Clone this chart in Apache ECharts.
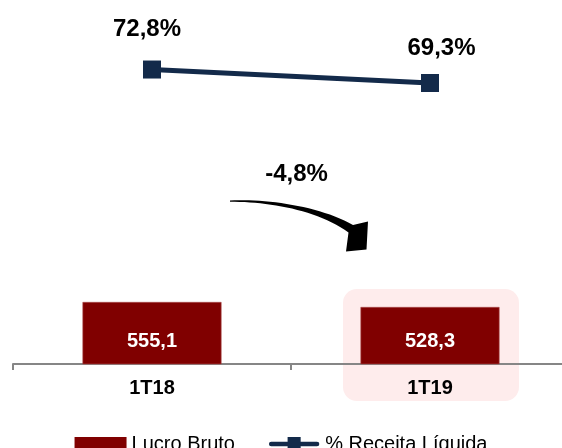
<!DOCTYPE html>
<html>
<head>
<meta charset="utf-8">
<script src="https://cdn.jsdelivr.net/npm/echarts@6/dist/echarts.min.js"></script>
<style>
    html, body { margin: 0; padding: 0; background: #fff; }
    #lucro { width: 562px; height: 448px; }
</style>
</head>
<body>
<div id="lucro"></div>
<script>
// dados
var categorias = ['1T18', '1T19'];
var lucro_bruto = [555.1, 528.3];
var receita_pct = [72.8, 69.3];
var variacao = '-4,8%';

var fonte = 'Liberation Sans, Arial, sans-serif';
var azul = '#132a4a';

var myChart = echarts.init(document.getElementById('lucro'));

// ponto de uma curva cubica (para desenhar a seta)
function bezier(p0, p1, p2, p3, n) {
    var pts = [];
    for (var i = 0; i <= n; i++) {
        var t = i / n, u = 1 - t;
        pts.push([
            u * u * u * p0[0] + 3 * u * u * t * p1[0] + 3 * u * t * t * p2[0] + t * t * t * p3[0],
            u * u * u * p0[1] + 3 * u * u * t * p1[1] + 3 * u * t * t * p2[1] + t * t * t * p3[1]
        ]);
    }
    return pts;
}

// icone da legenda: linha grossa com quadrado no meio
var icone_linha = 'path://M2.5,5 L51.5,5 A2.5,2.5 0 0 1 51.5,10 L2.5,10 A2.5,2.5 0 0 1 2.5,5 Z M20,0 L34,0 L34,15 L20,15 Z';

var option = {
    animation: false,
    grid: { left: 13, right: -7, top: 20, bottom: 84, outerBoundsMode: 'none' },
    legend: {
        data: [
            { name: 'Lucro Bruto', icon: 'rect', itemStyle: { color: '#800000', borderWidth: 0 } },
            { name: '% Receita Líquida', icon: icone_linha, itemStyle: { color: azul, borderWidth: 0 } }
        ],
        left: 'center',
        top: 429,
        itemWidth: 52,
        itemHeight: 14,
        itemGap: 34,
        textStyle: { fontFamily: fonte, fontSize: 20, color: '#000' }
    },
    xAxis: {
        type: 'category',
        data: categorias,
        axisLine: { onZero: false, lineStyle: { color: '#868686', width: 2 } },
        axisTick: { show: true, length: 6, lineStyle: { color: '#868686', width: 2 } },
        axisLabel: { margin: 14, color: '#000', fontFamily: fonte, fontSize: 20, fontWeight: 'bold' }
    },
    yAxis: [
        { type: 'value', min: 222.8, max: 2066.6, show: false, splitLine: { show: false } },
        { type: 'value', min: -3.55, max: 85.64, show: false, splitLine: { show: false } }
    ],
    series: [
        {
            name: 'Lucro Bruto',
            type: 'bar',
            barWidth: '50%',
            data: lucro_bruto,
            itemStyle: { color: '#800000', borderColor: '#a94a4a', borderWidth: 0.6 },
            label: {
                show: true,
                position: 'insideBottom',
                distance: 13,
                color: '#fff',
                fontFamily: fonte,
                fontSize: 20,
                fontWeight: 'bold',
                formatter: function (p) { return p.value.toFixed(1).replace('.', ','); }
            }
        },
        {
            name: '% Receita Líquida',
            type: 'line',
            yAxisIndex: 1,
            data: receita_pct.map(function (v, i) {
                return { value: v, label: { offset: i == 0 ? [-5, -40] : [11.5, -35] } };
            }),
            symbol: 'rect',
            symbolSize: 18,
            lineStyle: { color: azul, width: 5 },
            itemStyle: { color: azul },
            label: {
                show: true,
                position: 'inside',
                color: '#000',
                fontFamily: fonte,
                fontSize: 24,
                fontWeight: 'bold',
                formatter: function (p) { return p.value.toFixed(1).replace('.', ',') + '%'; }
            }
        }
    ]
};
myChart.setOption(option);

// seta curva: borda de cima, ponta, borda de baixo
var seta = bezier([230, 200.5], [265, 198.5], [320, 206], [353, 225], 24)
    .concat([[368, 221.5], [366.5, 249.5], [346, 251.5]])
    .concat(bezier([348.5, 232.5], [318, 210], [268, 201.5], [230, 201.8], 24));

// destaque do 1T19 e seta da variacao
var cx = myChart.convertToPixel({ xAxisIndex: 0 }, categorias[1]);
myChart.setOption({
    graphic: [
        {
            type: 'rect',
            z: -1,
            shape: { x: cx - 87, y: 289, width: 176, height: 112, r: 14 },
            style: { fill: '#feecec' }
        },
        {
            type: 'text',
            x: 296.5, y: 174,
            style: {
                text: variacao,
                fill: '#000',
                font: 'bold 24px ' + fonte,
                align: 'center',
                verticalAlign: 'middle'
            }
        },
        {
            type: 'polygon',
            shape: { points: seta },
            style: { fill: '#000' }
        }
    ]
});
</script>
</body>
</html>
